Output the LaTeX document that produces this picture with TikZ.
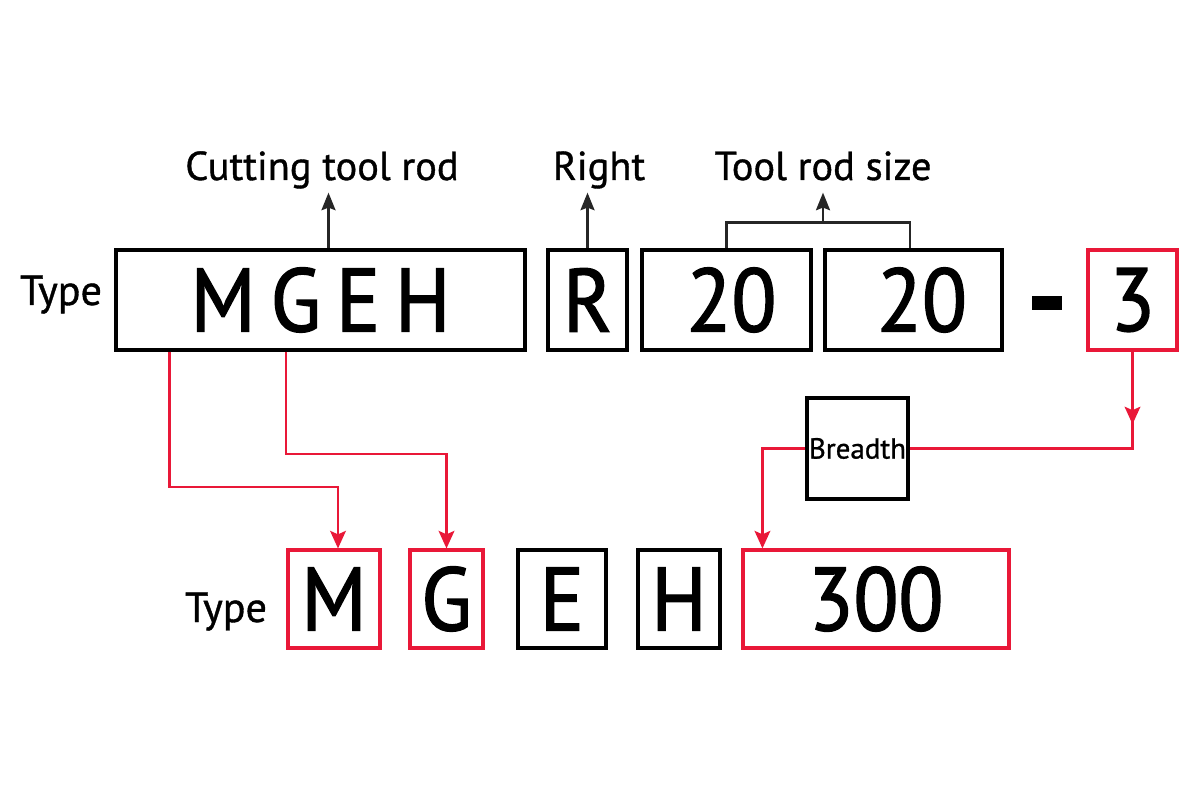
\documentclass[tikz,border=0pt]{standalone}
\usepackage{fontspec}
\setmainfont{PT Sans}[FakeBold=0.9]
\newfontfamily\codefont{PT Sans}[FakeBold=1.6, FakeStretch=0.92]
\usepackage{xcolor}
\usetikzlibrary{arrows.meta, positioning, calc}
\definecolor{linkred}{RGB}{233,24,56}

\begin{document}
\begin{tikzpicture}[
    x=0.02cm, y=-0.02cm,
    codebox/.style={rectangle, draw=#1, line width=1.8pt, inner sep=0pt, minimum height=2cm, font=\codefont\fontsize{51}{51}\selectfont},
    codebox/.default=black,
    lbl/.style={inner sep=2pt, text depth=5pt, font=\fontsize{23}{23}\selectfont},
    typelbl/.style={inner sep=0pt, anchor=base, font=\fontsize{24}{24}\selectfont},
    uparr/.style={-{Stealth[length=10pt, width=8pt, inset=1.5pt]}, line width=1.3pt, color=black!85},
    redarr/.style={-{Stealth[length=10pt, width=9pt, inset=2pt]}, line width=1.2pt, color=linkred},
    redline/.style={line width=1.2pt, color=linkred}
]
\useasboundingbox (0,0) rectangle (1200,800);

% Top row: code of the tool rod
\node[typelbl] (type1) at (61,305) {Type};
\node[codebox, minimum width=8.18cm] (mgeh) at (320.5,300) {M\,G\,E\,H};
\node[codebox, minimum width=1.58cm] (r) at (587.5,300) {R};
\node[codebox, minimum width=3.38cm] (twentyA) at (726.5,300) {\hspace{0.2cm}20};
\node[codebox, minimum width=3.54cm] (twentyB) at (913.5,300) {\hspace{0.34cm}20};
\node[rectangle, fill=black, inner sep=0pt, minimum width=0.6cm, minimum height=0.28cm] (dash) at (1047,303) {};
\node[codebox=linkred, minimum width=1.78cm] (three) at (1132.5,300) {3};

% Labels above
\node[lbl, anchor=base] (cutlbl) at (322,180) {Cutting tool rod};
\node[lbl, anchor=base] (rightlbl) at (599,180) {Right};
\node[lbl, anchor=base] (sizelbl) at (823,180) {Tool rod size};

% Breadth
\node[rectangle, draw, line width=1.8pt, inner sep=0pt, minimum width=2.02cm, minimum height=2.02cm, font=\fontsize{16.5}{16.5}\selectfont] (breadth) at (857.5,448.5) {Breadth};

% Bottom row: code of the blade
\node[typelbl] (type2) at (226,622) {Type};
\node[codebox=linkred, minimum width=1.84cm, minimum height=1.96cm] (mbox) at (334,599) {M};
\node[codebox=linkred, minimum width=1.46cm, minimum height=1.96cm] (gbox) at (446.5,599) {G};
\node[codebox, minimum width=1.76cm, minimum height=1.96cm] (ebox) at (562,599) {E};
\node[codebox, minimum width=1.64cm, minimum height=1.96cm] (hbox) at (679,599) {H};
\node[codebox=linkred, minimum width=5.32cm, minimum height=1.96cm] (len) at (876,599) {300};

% ---- ARROWS ----
% up to the labels
\draw[uparr] ([xshift=0.16cm]mgeh.north) -- ([xshift=0.16cm]mgeh.north |- cutlbl.south);
\draw[uparr] (r.north) -- (r.north |- rightlbl.south);
\draw[line width=1.3pt, color=black!85] (twentyA.north) -- ++(0,-26) coordinate (brk) -| ([xshift=-0.07cm]twentyB.north);
\draw[uparr] (brk -| sizelbl.south) -- (sizelbl.south);

% MG kept in the blade code
\draw[redarr] ([xshift=1.1cm]mgeh.south west) -- ++(0,135) -| ([xshift=0.08cm]mbox.north);
\draw[redarr] ([xshift=3.44cm]mgeh.south west) -- ++(0,102) -| (gbox.north);

% 3 -> Breadth -> 300
\coordinate (bend) at (three.south |- breadth.east);
\draw[redline] (three.south) |- (breadth.east);
\draw[redarr] (three.south) -- ($(three.south)!0.75!(bend)$);
\draw[redarr] (breadth.west) -| ([xshift=0.42cm]len.north west);

\end{tikzpicture}
\end{document}
